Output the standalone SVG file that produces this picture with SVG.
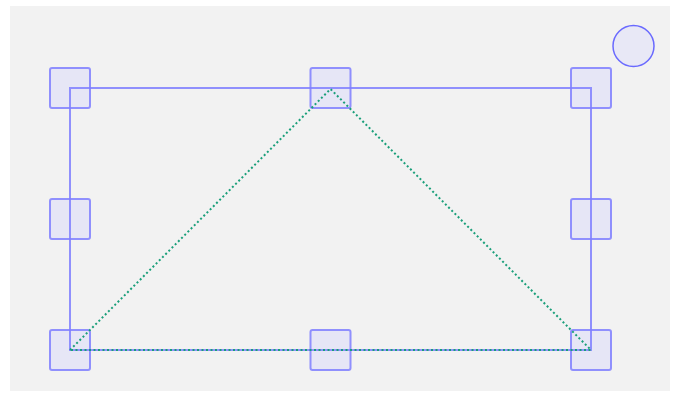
<svg xmlns="http://www.w3.org/2000/svg" width="680" height="396" viewBox="0 0 680 396">
<style>
.bg{fill:#f2f2f2}
.frame{fill:none;stroke:#7f7fff;stroke-width:2;stroke-opacity:0.85}
.tri{fill:none;stroke:#1a9f7a;stroke-width:2;stroke-dasharray:2 2.5}
.h{fill:#e6e6f6;stroke:#7f7fff;stroke-width:2;stroke-opacity:0.85}
.rot{fill:#e8e8f6;stroke:#6a6aff;stroke-width:1.5}
</style>
<rect x="0" y="0" width="680" height="396" fill="#ffffff"/>
<rect class="bg" x="10" y="6" width="660" height="385"/>
<g id="handle-tl"><rect class="h" x="50" y="68" width="40" height="40" rx="2"/></g>
<g id="handle-tm"><rect class="h" x="310.5" y="68" width="40" height="40" rx="2"/></g>
<g id="handle-tr"><rect class="h" x="571" y="68" width="40" height="40" rx="2"/></g>
<g id="handle-ml"><rect class="h" x="50" y="199" width="40" height="40" rx="2"/></g>
<g id="handle-mr"><rect class="h" x="571" y="199" width="40" height="40" rx="2"/></g>
<g id="handle-bl"><rect class="h" x="50" y="330" width="40" height="40" rx="2"/></g>
<g id="handle-bm"><rect class="h" x="310.5" y="330" width="40" height="40" rx="2"/></g>
<g id="handle-br"><rect class="h" x="571" y="330" width="40" height="40" rx="2"/></g>
<g id="rotate"><circle class="rot" cx="633.5" cy="46" r="20.5"/></g>
<g id="connectors">
<rect class="frame" x="70" y="88" width="521" height="262"/>
<path class="tri" d="M70,350 L330.5,89 L591,350 Z"/>
</g>
</svg>
